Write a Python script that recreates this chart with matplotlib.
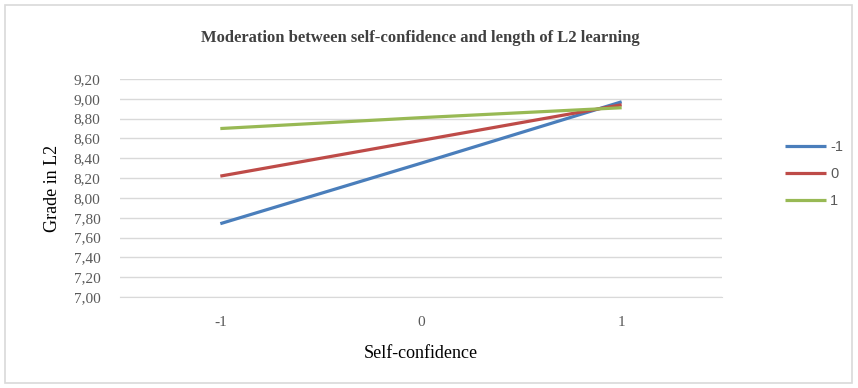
import matplotlib
matplotlib.use('Agg')
import matplotlib.pyplot as plt
from matplotlib.ticker import FuncFormatter
from matplotlib.patches import Rectangle

# data
categories = ['-1', '0', '1']
series_names = ['-1', '0', '1']
low_len = [7.74, 8.35, 8.97]
mid_len = [8.22, 8.58, 8.94]
high_len = [8.70, 8.81, 8.91]
yticks = [7.0, 7.2, 7.4, 7.6, 7.8, 8.0, 8.2, 8.4, 8.6, 8.8, 9.0, 9.2]

colors = ['#4a7ebb', '#be4b48', '#98b954']

fig = plt.figure(figsize=(8.58, 3.88), dpi=100)
fig.patches.append(Rectangle((5 / 858, 5 / 388), 847 / 858, 378 / 388, transform=fig.transFigure,
                             fill=False, edgecolor='#d9d9d9', linewidth=1.2))

ax = fig.add_axes([120 / 858, 91 / 388, 602 / 858, 218 / 388])
x = list(range(len(categories)))
for vals, name, c in zip([low_len, mid_len, high_len], series_names, colors):
    ax.plot(x, vals, color=c, linewidth=2.3, label=name, solid_capstyle='butt')

ax.set_xlim(-0.5, 2.5)
ax.set_ylim(7.0, 9.2)
ax.set_yticks(yticks)
ax.yaxis.set_major_formatter(FuncFormatter(lambda v, p: f'{v:.2f}'.replace('.', ',')))
ax.set_xticks(x)
ax.set_xticklabels(categories)
ax.grid(axis='y', color='#d9d9d9', linewidth=1)
ax.set_axisbelow(True)
for s in ['top', 'right', 'left']:
    ax.spines[s].set_visible(False)
ax.spines['bottom'].set_color('#d9d9d9')
ax.tick_params(axis='both', length=0, labelsize=11, labelcolor='#595959')
for lab in ax.get_xticklabels() + ax.get_yticklabels():
    lab.set_family('Liberation Serif')
ax.tick_params(axis='y', pad=14)
ax.tick_params(axis='x', pad=14)

ax.set_xlabel('Self-confidence', family='Liberation Serif', fontsize=13, labelpad=11)
ax.set_ylabel('Grade in L2', family='Liberation Serif', fontsize=13, labelpad=9)
fig.text(420 / 858, 1 - 38 / 388, 'Moderation between self-confidence and length of L2 learning',
         family='Liberation Serif', fontsize=12, fontweight='bold', color='#404040',
         ha='center', va='center')

leg = ax.legend(loc='center left', bbox_to_anchor=(772 / 858, 214 / 388), bbox_transform=fig.transFigure,
                frameon=False, handlelength=2.8, handletextpad=0.3, labelspacing=0.9,
                prop={'family': 'Liberation Sans', 'size': 10.5})
for t in leg.get_texts():
    t.set_color('#595959')

fig.savefig('out.png', dpi=100)
